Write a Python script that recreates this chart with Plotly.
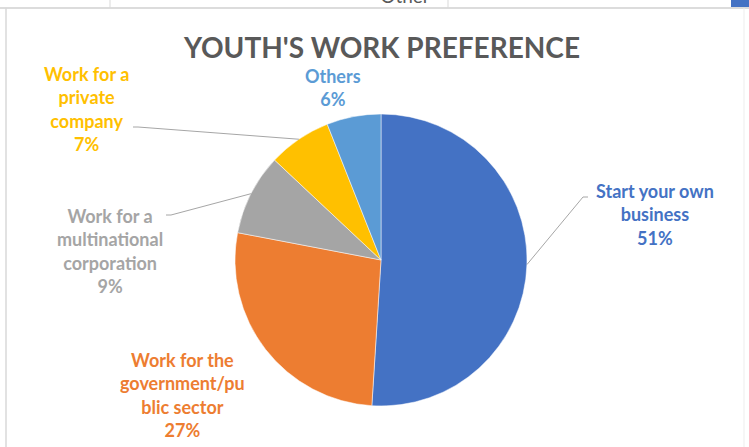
import math
import plotly.graph_objects as go

# Survey shares, in the order the slices run clockwise from 12 o'clock
categories = [
    "Start your own business",
    "Work for the government/public sector",
    "Work for a multinational corporation",
    "Work for a private company",
    "Others",
]
label_lines = [
    ["Start your own", "business"],
    ["Work for the", "government/pu", "blic sector"],
    ["Work for a", "multinational", "corporation"],
    ["Work for a", "private", "company"],
    ["Others"],
]
values = [51, 27, 9, 7, 6]
colors = ["#4472C4", "#ED7D31", "#A5A5A5", "#FFC000", "#5B9BD5"]

W, H = 749, 447
FONT = "Lato"


def px(x):
    return x / W


def py(y):
    return 1 - y / H


# Pie geometry (pixels)
CX, CY, R = 381, 260, 146
dom_x = [px(CX - R), px(CX + R)]
dom_y = [py(CY + R), py(CY - R)]

# Label centres and which labels get a leader line (pixels)
label_pos = [(655, 215), (182, 395), (110, 251), (86, 109), (333, 88)]
leader_start = [(588, 197), None, (166, 215), (133, 127), None]

fig = go.Figure()

fig.add_trace(go.Pie(
    labels=categories,
    values=values,
    sort=False,
    direction="clockwise",
    rotation=0,
    marker=dict(colors=colors, line=dict(color="white", width=0.5)),
    textinfo="none",
    hoverinfo="label+percent",
    showlegend=False,
    domain=dict(x=dom_x, y=dom_y),
))

total = sum(values)
shapes = []
annotations = []
cum = 0
for i, v in enumerate(values):
    mid = (cum + v / 2) / total * 2 * math.pi
    cum += v
    ex = CX + R * math.sin(mid)
    ey = CY - R * math.cos(mid)
    pct = round(v / total * 100)
    text = "<b>" + "<br>".join(label_lines[i] + [f"{pct}%"]) + "</b>"
    lx, ly = label_pos[i]
    annotations.append(dict(
        x=px(lx), y=py(ly), xref="paper", yref="paper",
        text=text, showarrow=False, align="center",
        xanchor="center", yanchor="middle",
        font=dict(family=FONT, size=18, color=colors[i]),
    ))
    if leader_start[i] is not None:
        sx, sy = leader_start[i]
        kx = sx + (5 if ex > sx else -5)
        shapes.append(dict(
            type="path", xref="paper", yref="paper",
            path=f"M {px(sx)} {py(sy)} L {px(kx)} {py(sy)} L {px(ex)} {py(ey)}",
            line=dict(color="#A6A6A6", width=1),
        ))

# Title
annotations.append(dict(
    x=px(381), y=py(47), xref="paper", yref="paper",
    text="<b>YOUTH'S WORK PREFERENCE</b>", showarrow=False,
    xanchor="center", yanchor="middle",
    font=dict(family=FONT, size=28, color="#595959"),
))

# Chart frame and the strip of the sheet above it
shapes += [
    dict(type="line", xref="paper", yref="paper", x0=0, x1=1, y0=py(8), y1=py(8),
         line=dict(color="#D0D0D0", width=1.5)),
    dict(type="line", xref="paper", yref="paper", x0=px(6), x1=px(6), y0=0, y1=py(8),
         line=dict(color="#D9D9D9", width=1.5)),
    dict(type="line", xref="paper", yref="paper", x0=px(744), x1=px(744), y0=0, y1=py(8),
         line=dict(color="#EDEDED", width=1)),
    dict(type="line", xref="paper", yref="paper", x0=px(110), x1=px(110), y0=py(8), y1=1,
         line=dict(color="#D9D9D9", width=1)),
    dict(type="line", xref="paper", yref="paper", x0=px(448), x1=px(448), y0=py(8), y1=1,
         line=dict(color="#D9D9D9", width=1)),
    dict(type="rect", xref="paper", yref="paper", x0=px(731), x1=1, y0=py(7), y1=1,
         fillcolor="#4472C4", line=dict(width=0)),
]

# Cut-off header cell text, clipped to the strip
fig.add_trace(go.Scatter(
    x=[405], y=[-2], mode="text", text=["Other"],
    textfont=dict(family=FONT, size=19, color="#595959"),
    textposition="middle center", cliponaxis=True,
    xaxis="x2", yaxis="y2", showlegend=False, hoverinfo="skip",
))

fig.update_layout(
    width=W, height=H,
    margin=dict(l=0, r=0, t=0, b=0),
    paper_bgcolor="white", plot_bgcolor="white",
    shapes=shapes, annotations=annotations,
    xaxis2=dict(domain=[0, 1], range=[0, W], visible=False, fixedrange=True, anchor="y2"),
    yaxis2=dict(domain=[py(7), 1], range=[7, 0], visible=False, fixedrange=True, anchor="x2"),
)

fig.write_html("out.html")
